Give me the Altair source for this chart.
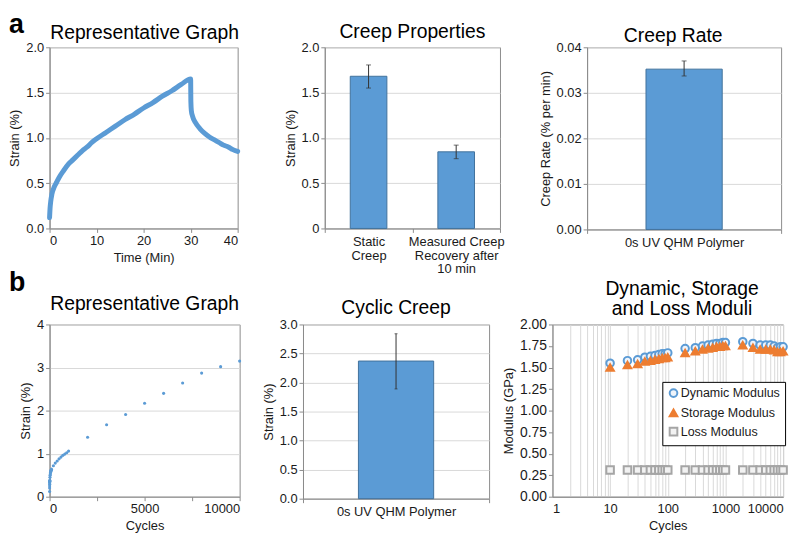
import altair as alt
import pandas as pd

FONT = "Liberation Sans"
BLUE = "#5b9bd5"
BAR_STROKE = "#41719c"
ORANGE = "#ed7d31"
GRAY = "#a5a5a5"
GRID = "#d9d9d9"
FRAME = "#8c8c8c"
ERR = "#333333"

# ---------- panel a: representative creep curve ----------
creep_time = [0, 0.1, 0.25, 0.5, 1, 1.5, 2, 3, 4, 5, 6, 7, 8, 9, 10, 12, 14, 16, 18, 20,
              22, 24, 26, 28, 30, 30.05, 30.15, 30.4, 31, 32, 33, 34, 35, 36, 37, 38, 39, 40]
creep_strain = [0.12, 0.22, 0.30, 0.38, 0.46, 0.51, 0.56, 0.64, 0.71, 0.76, 0.81, 0.86, 0.90, 0.95,
                0.99, 1.06, 1.13, 1.20, 1.26, 1.33, 1.39, 1.46, 1.52, 1.59, 1.65, 1.40, 1.30, 1.24,
                1.17, 1.10, 1.05, 1.01, 0.98, 0.95, 0.92, 0.90, 0.87, 0.85]

# ---------- creep properties ----------
prop_labels = ["Static|Creep", "Measured Creep|Recovery after|10 min"]
prop_mean = [1.68, 0.846]
prop_low = [1.55, 0.77]
prop_high = [1.805, 0.92]

# ---------- creep rate ----------
rate_labels = ["0s UV QHM Polymer"]
rate_mean = [0.0352]
rate_low = [0.0337]
rate_high = [0.0370]

# ---------- panel b: representative cyclic curve ----------
cyc_cycles = [1, 2, 3, 4, 5, 6, 7, 8, 9, 10, 20, 30, 40, 50, 60, 70, 80, 90, 100,
              200, 300, 400, 500, 600, 700, 800, 900, 1000,
              2000, 3000, 4000, 5000, 6000, 7000, 8000, 9000, 10000]
cyc_strain = [0.12, 0.20, 0.25, 0.29, 0.32, 0.34, 0.35, 0.36, 0.37, 0.38, 0.45, 0.50, 0.53,
              0.56, 0.58, 0.60, 0.61, 0.62, 0.64, 0.72, 0.78, 0.83, 0.88, 0.92, 0.96, 0.99,
              1.02, 1.06, 1.38, 1.67, 1.91, 2.17, 2.40, 2.64, 2.87, 3.02, 3.15]

# ---------- cyclic creep ----------
cyclic_labels = ["0s UV QHM Polymer"]
cyclic_mean = [2.37]
cyclic_low = [1.89]
cyclic_high = [2.84]

# ---------- moduli ----------
mod_cycles = [10, 20, 30, 40, 50, 60, 70, 80, 90, 100, 200, 300, 400, 500, 600, 700, 800, 900,
              1000, 2000, 3000, 4000, 5000, 6000, 7000, 8000, 9000, 10000]
dynamic_mod = [1.55, 1.58, 1.59, 1.62, 1.63, 1.64, 1.65, 1.66, 1.66, 1.67, 1.72, 1.73, 1.75, 1.76,
               1.77, 1.78, 1.78, 1.79, 1.79, 1.80, 1.78, 1.76, 1.76, 1.76, 1.75, 1.73, 1.74, 1.74]
storage_mod = [1.50, 1.53, 1.54, 1.57, 1.58, 1.59, 1.60, 1.61, 1.61, 1.62, 1.67, 1.69, 1.71, 1.72,
               1.73, 1.74, 1.74, 1.75, 1.75, 1.76, 1.73, 1.71, 1.71, 1.71, 1.70, 1.68, 1.68, 1.69]
loss_mod = [0.31, 0.31, 0.31, 0.31, 0.31, 0.31, 0.31, 0.31, 0.31, 0.31, 0.31, 0.31, 0.31, 0.31,
            0.31, 0.31, 0.31, 0.31, 0.31, 0.31, 0.31, 0.31, 0.31, 0.31, 0.31, 0.31, 0.31, 0.31]
series_names = ["Dynamic Modulus", "Storage Modulus", "Loss Modulus"]
log_ticks = [1, 2, 3, 4, 5, 6, 7, 8, 9, 10, 20, 30, 40, 50, 60, 70, 80, 90,
             100, 200, 300, 400, 500, 600, 700, 800, 900,
             1000, 2000, 3000, 4000, 5000, 6000, 7000, 8000, 9000, 10000]


def title_mark(text, x, y):
    return alt.Chart(pd.DataFrame({"t": [text]})).mark_text(
        text=text, fontSize=19.5, font=FONT, align="center", baseline="alphabetic",
        color="black", lineBreak="\n", lineHeight=20
    ).encode(x=alt.value(x), y=alt.value(y))


def panel_label(letter, dx, dy):
    return alt.Chart(pd.DataFrame({"l": [letter]})).mark_text(
        text=letter, fontSize=27, fontWeight="bold", font=FONT, align="left",
        baseline="top", color="black"
    ).encode(x=alt.value(dx), y=alt.value(dy))


# ---- a1 ----
df_a1 = pd.DataFrame({"t": creep_time, "s": creep_strain})
a1_line = alt.Chart(df_a1).mark_line(color=BLUE, strokeWidth=5, strokeCap="round",
                                     strokeJoin="round", interpolate="monotone").encode(
    x=alt.X("t:Q", scale=alt.Scale(domain=[0, 40], nice=False),
            axis=alt.Axis(title="Time (Min)", values=[0, 10, 20, 30, 40], grid=False)),
    y=alt.Y("s:Q", scale=alt.Scale(domain=[0, 2], nice=False),
            axis=alt.Axis(title="Strain (%)", values=[0, 0.5, 1, 1.5, 2], format=".1f")),
)
a1 = alt.layer(a1_line, panel_label("a", -41, -35),
               title_mark("Representative Graph", 96, -8.5)).properties(width=190, height=183)


def bar_panel(labels, mean, low, high, ytitle, ydomain, yvalues, ylabelexpr, barsize,
              width, height, ttl, tx, ty, capsize, multiline=False):
    df = pd.DataFrame({"cat": labels, "m": mean, "lo": low, "hi": high})
    xaxis = alt.Axis(title=None, labelAngle=0, tickBand="extent", grid=False,
                     labelLineHeight=14, labelPadding=3,
                     labelExpr="split(datum.label, '|')" if multiline else "datum.label")
    base = alt.Chart(df).encode(
        x=alt.X("cat:N", sort=None, scale=alt.Scale(paddingInner=0, paddingOuter=0), axis=xaxis))
    ys = alt.Scale(domain=ydomain, nice=False)
    yaxis = alt.Axis(title=ytitle, values=yvalues, labelExpr=ylabelexpr)
    bars = base.mark_bar(size=barsize, color=BLUE, stroke=BAR_STROKE, strokeWidth=1).encode(
        y=alt.Y("m:Q", scale=ys, axis=yaxis))
    err = base.mark_rule(color=ERR, strokeWidth=1).encode(
        y=alt.Y("lo:Q", scale=ys, axis=yaxis), y2="hi:Q")
    cap_lo = base.mark_tick(color=ERR, size=capsize, thickness=1, orient="horizontal").encode(
        y=alt.Y("lo:Q", scale=ys, axis=yaxis))
    cap_hi = base.mark_tick(color=ERR, size=capsize, thickness=1, orient="horizontal").encode(
        y=alt.Y("hi:Q", scale=ys, axis=yaxis))
    return alt.layer(bars, err, cap_lo, cap_hi, title_mark(ttl, tx, ty)).properties(
        width=width, height=height)


a2 = bar_panel(prop_labels, prop_mean, prop_low, prop_high, "Strain (%)", [0, 2],
               [0, 0.5, 1, 1.5, 2], "datum.value == 0 ? '0' : format(datum.value, '.1f')",
               37, 177, 183, "Creep Properties", 88.5, -9, 5, multiline=True)
a3 = bar_panel(rate_labels, rate_mean, rate_low, rate_high, "Creep Rate (% per min)",
               [0, 0.04], [0, 0.01, 0.02, 0.03, 0.04], "format(datum.value, '.2f')",
               77, 196, 184, "Creep Rate", 87, -5, 5)

# ---- b1 ----
df_b1 = pd.DataFrame({"c": cyc_cycles, "s": cyc_strain})
b1_pts = alt.Chart(df_b1).mark_point(filled=True, size=10, color=BLUE, opacity=1).encode(
    x=alt.X("c:Q", scale=alt.Scale(domain=[0, 10000], nice=False),
            axis=alt.Axis(title="Cycles", values=[0, 2500, 5000, 7500, 10000], grid=False,
                          format="d")),
    y=alt.Y("s:Q", scale=alt.Scale(domain=[0, 4], nice=False),
            axis=alt.Axis(title="Strain (%)", values=[0, 1, 2, 3, 4], format="d")),
)
b1 = alt.layer(b1_pts, panel_label("b", -41, -55),
               title_mark("Representative Graph", 96, -15)).properties(width=192, height=174)

b2 = bar_panel(cyclic_labels, cyclic_mean, cyclic_low, cyclic_high, "Strain (%)", [0, 3],
               [0, 0.5, 1, 1.5, 2, 2.5, 3], "format(datum.value, '.1f')",
               76, 188, 176, "Cyclic Creep", 94, -11, 3)

# ---- b3 ----
df_b3 = pd.concat([
    pd.DataFrame({"c": mod_cycles, "v": dynamic_mod, "series": series_names[0]}),
    pd.DataFrame({"c": mod_cycles, "v": storage_mod, "series": series_names[1]}),
    pd.DataFrame({"c": mod_cycles, "v": loss_mod, "series": series_names[2]}),
], ignore_index=True)

leg = alt.Legend(title=None, orient="none", legendX=111, legendY=58, strokeColor="black",
                 fillColor="white", padding=5, labelFont=FONT, labelFontSize=12.6,
                 labelColor="#1a1a1a", symbolSize=60, symbolStrokeWidth=2, rowPadding=3,
                 labelOffset=1)
b3_pts = alt.Chart(df_b3).mark_point(filled=True, size=58, strokeWidth=2, opacity=1).encode(
    x=alt.X("c:Q", scale=alt.Scale(type="log", domain=[1, 10000], nice=False),
            axis=alt.Axis(title="Cycles", values=log_ticks, grid=True, ticks=False,
                          labelOverlap=False, labelPadding=6,
                          labelExpr="indexof([1, 10, 100, 1000, 10000], datum.value) >= 0 ? format(datum.value, 'd') : ''")),
    y=alt.Y("v:Q", scale=alt.Scale(domain=[0, 2], nice=False),
            axis=alt.Axis(title="Modulus (GPa)", values=[0, 0.25, 0.5, 0.75, 1, 1.25, 1.5, 1.75, 2],
                          format=".2f", grid=False, labelFontSize=14)),
    fill=alt.Fill("series:N", sort=series_names,
                  scale=alt.Scale(domain=series_names, range=["#eef4fb", ORANGE, "#f2f2f2"]),
                  legend=leg),
    stroke=alt.Stroke("series:N", sort=series_names,
                      scale=alt.Scale(domain=series_names, range=[BLUE, ORANGE, GRAY]),
                      legend=leg),
    shape=alt.Shape("series:N", sort=series_names,
                    scale=alt.Scale(domain=series_names, range=["circle", "triangle-up", "square"]),
                    legend=leg),
)
b3 = alt.layer(b3_pts, title_mark("Dynamic, Storage\nand Loss Moduli", 131, -30)).properties(
    width=233, height=174)

rowA = alt.hconcat(a1, a2, a3, spacing=88, bounds="flush")
rowB = alt.hconcat(b1, b2, b3, spacing=64, bounds="flush").resolve_scale(
    fill="independent", stroke="independent", shape="independent")

chart = alt.vconcat(rowA, rowB, spacing=-9).resolve_scale(
    fill="independent", stroke="independent", shape="independent"
).properties(padding=0).configure_axis(
    labelFont=FONT, titleFont=FONT, labelFontSize=13, titleFontSize=13,
    titleFontWeight="normal", labelColor="#1a1a1a", titleColor="#1a1a1a",
    gridColor=GRID, domainColor=FRAME, tickColor=FRAME, tickSize=4,
).configure_view(stroke=FRAME, strokeWidth=1)

chart.save("out.html", embed_options={"renderer": "svg", "actions": False})
